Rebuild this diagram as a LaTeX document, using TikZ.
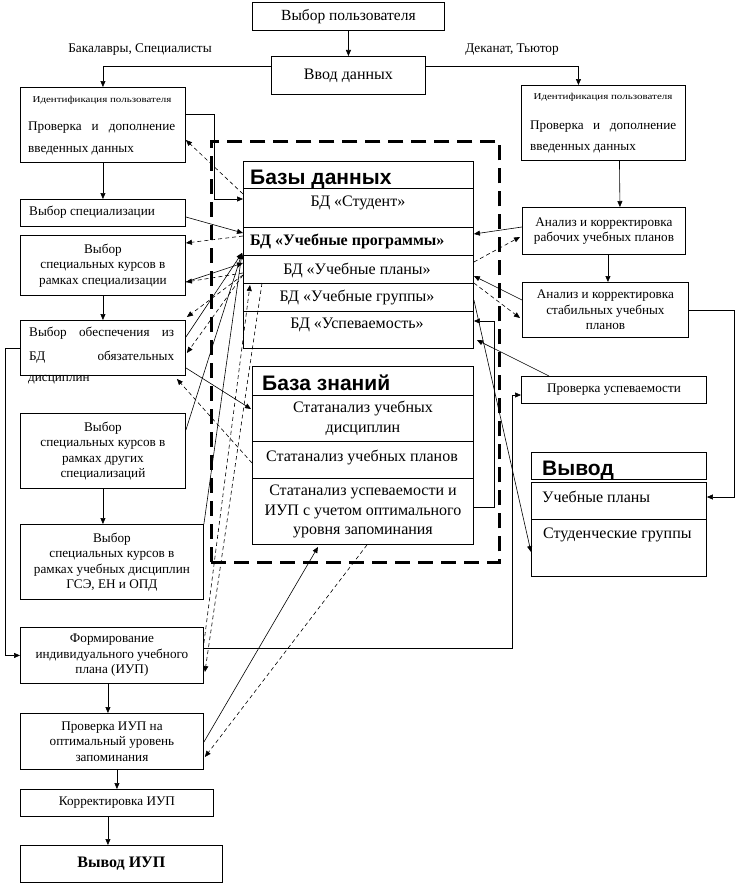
\documentclass[tikz,border=0pt]{standalone}
\usepackage{fontspec}
\setmainfont{Liberation Serif}
\newfontfamily\hsans{Liberation Sans}
\newfontfamily\widefam{Liberation Serif}[FakeStretch=1.22]
\usetikzlibrary{arrows.meta,calc}
\newcommand{\bodyf}{\fontsize{13.2}{15.5}\selectfont}
\newcommand{\bigf}{\fontsize{16}{19.5}\selectfont}
\newcommand{\smallf}{\fontsize{13.3}{15}\selectfont}
\newcommand{\tinyf}{\widefam\fontsize{9}{10}\selectfont}
\newcommand{\headf}{\hsans\bfseries\fontsize{21}{22}\selectfont}
\begin{document}
\begin{tikzpicture}[x=1pt,y=-1pt,
  box/.style={draw, line width=0.9pt, inner sep=1pt, align=center, font=\bodyf, anchor=north west},
  bbox/.style={box, font=\bigf},
  txt/.style={inner sep=0pt, font=\bodyf},
  btxt/.style={inner sep=0pt, font=\bigf},
  lbl/.style={inner sep=0pt, font=\smallf},
  tiny/.style={inner sep=0pt, font=\tinyf},
  head/.style={inner sep=0pt, font=\headf, anchor=base west},
  arr/.style={-{Triangle[length=6pt,width=5pt]}, line width=0.6pt},
  darr/.style={arr, dash pattern=on 4pt off 3pt},
  frame/.style={draw, line width=2.8pt, dash pattern=on 15pt off 8pt, anchor=north west, inner sep=0pt}
]
\useasboundingbox (0,0) rectangle (735,883);

% dashed frame
\node[frame, minimum width=288pt, minimum height=421pt] (frm) at (210,140) {};

% top
\node[bbox, minimum width=192pt, minimum height=28pt, font=\fontsize{15.5}{18}\selectfont] (user) at (252,2) {Выбор пользователя};
\node[bbox, minimum width=154pt, minimum height=38pt] (input) at (271,56) {Ввод данных};
\node[lbl] (lblL) at (140,50) {Бакалавры, Специалисты};
\node[lbl] (lblR) at (512,50) {Деканат, Тьютор};

% left ident
\node[box, minimum width=165pt, minimum height=75pt] (idL) at (20,87) {};
\node[tiny] (idLt) at (102,100) {Идентификация пользователя};
\node[txt, anchor=west] (idL1) at (28,128) {\makebox[147pt][s]{Проверка и дополнение}};
\node[txt, anchor=west] (idL2) at (28,151) {введенных данных};

% right ident
\node[box, minimum width=164pt, minimum height=75pt] (idR) at (521,85) {};
\node[tiny] (idRt) at (603,97) {Идентификация пользователя};
\node[txt, anchor=west] (idR1) at (530,127) {\makebox[146pt][s]{Проверка и дополнение}};
\node[txt, anchor=west] (idR2) at (530,149) {введенных данных};

% left column
\node[box, minimum width=165pt, minimum height=27pt] (spec) at (20,199) {};
\node[txt, anchor=west] (spect) at (29,212.5) {Выбор специализации};
\node[box, minimum width=165pt, minimum height=60pt] (box5) at (20,235) {Выбор\\специальных курсов в\\рамках специализации};
\node[box, minimum width=165pt, minimum height=55pt] (box6) at (20,320) {};
\node[txt, anchor=west] (b6a) at (29,333) {\makebox[145pt][s]{Выбор обеспечения из}};
\node[txt, anchor=west] (b6b) at (29,357) {\makebox[145pt][s]{БД обязательных}};
\node[txt, anchor=west] (b6c) at (28,380) {дисциплин};
\node[box, minimum width=165pt, minimum height=75pt] (box7) at (20,413) {Выбор\\специальных курсов в\\рамках других\\специализаций};
\node[box, minimum width=183pt, minimum height=75pt] (box8) at (20,524) {Выбор\\специальных курсов в\\рамках учебных дисциплин\\ГСЭ, ЕН и ОПД};
\node[box, minimum width=183pt, minimum height=56pt] (box9) at (20,627) {Формирование\\индивидуального учебного\\плана (ИУП)};
\node[box, minimum width=183pt, minimum height=56pt] (box10) at (20,713) {Проверка ИУП на\\оптимальный уровень\\запоминания};
\node[box, minimum width=193pt, minimum height=27pt] (box11) at (20,789) {Корректировка ИУП};
\node[bbox, minimum width=202pt, minimum height=37pt, font=\bigf\bfseries] (box12) at (20,845) {Вывод ИУП};

% right column
\node[box, minimum width=163pt, minimum height=47pt] (rab) at (522,207) {Анализ и корректировка\\рабочих учебных планов};
\node[box, minimum width=166pt, minimum height=55pt] (stab) at (522,282) {Анализ и корректировка\\стабильных учебных\\планов};
\node[box, minimum width=185pt, minimum height=27pt] (prov) at (521,376) {Проверка успеваемости};

% output
\node[box, minimum width=175pt, minimum height=27pt] (vh) at (531,452) {};
\node[head] (vht) at (542,475) {Вывод};
\node[box, minimum width=175pt, minimum height=37pt] (vb1) at (531,482) {};
\node[box, minimum width=175pt, minimum height=57pt] (vb2) at (531,519) {};
\node[btxt, anchor=west] (vb1t) at (542,497) {Учебные планы};
\node[btxt, anchor=west] (vb2t) at (543,535) {Студенческие группы};

% databases
\node[box, minimum width=230pt, minimum height=27pt] (dbh) at (243,161) {};
\node[head] (dbht) at (250,184) {Базы данных};
\node[box, minimum width=230pt, minimum height=39pt] (r1) at (243,188) {};
\node[box, minimum width=230pt, minimum height=28pt] (r2) at (243,227) {};
\node[box, minimum width=230pt, minimum height=28pt] (r3) at (243,255) {};
\node[box, minimum width=230pt, minimum height=28pt] (r4) at (243,283) {};
\node[box, minimum width=230pt, minimum height=37pt] (r5) at (243,311) {};
\node[btxt] (r1t) at (358,203) {БД «Студент»};
\node[btxt, anchor=west, font=\bigf\bfseries] (r2t) at (250,241) {БД «Учебные программы»};
\node[btxt] (r3t) at (357,270) {БД «Учебные планы»};
\node[btxt] (r4t) at (357,297) {БД «Учебные группы»};
\node[btxt] (r5t) at (357,325) {БД «Успеваемость»};

% knowledge base
\node[box, minimum width=221pt, minimum height=29pt] (kbh) at (252,366) {};
\node[head] (kbht) at (262,390) {База знаний};
\node[bbox, minimum width=221pt, minimum height=46pt] (k1) at (252,395) {Статанализ учебных\\дисциплин};
\node[box, minimum width=221pt, minimum height=37pt] (k2) at (252,441) {};
\node[btxt] (k2t) at (362,457) {Статанализ учебных планов};
\node[bbox, minimum width=221pt, minimum height=66pt] (k3) at (252,478) {Статанализ успеваемости и\\ИУП с учетом оптимального\\уровня запоминания};

% top connectors
\draw[arr] (user) -- (input);
\draw[arr] ($(input.north west)+(0,10)$) -| (idL.north);
\draw[arr] ($(input.north east)+(0,10)$) -| ($(idR.north)+(-25,0)$);
\draw[arr] (idL.south) -- (spec.north);
\draw[arr] (box5.south) -- (box6.north);
\draw[arr] (box7.south) -- (box7.south |- box8.north);
\draw[arr] ($(box9.south)+(-4,0)$) -- ($(box10.north)+(-4,0)$);
\draw[arr] ($(box10.south)+(5,0)$) -- ($(box10.south |- box11.north)+(5,0)$);
\draw[arr] ($(box11.south)+(-9,0)$) -- ($(box11.south |- box12.north)+(-9,0)$);
\draw[arr] ($(box6.north west)+(0,28)$) -- ++(-15,0) |- (box9.west);
\draw[arr] ($(idR.south)+(16,0)$) -- ($(rab.north)+(16,0)$);
\draw[arr] ($(rab.south)+(4,0)$) -- ($(rab.south |- stab.north)+(4,0)$);
\draw[arr] (stab.east) -- ++(45,0) |- ($(vb1.north east)+(0,15)$);

% left links to databases
\coordinate (P) at ($(r3.north west)+(-1,-2)$);
\draw[arr] ($(idL.north east)+(0,27)$) -- ++(28,0) |- ($(r1.north west)+(0,11)$);
\draw[darr] ($(r1.north west)+(0,6)$) -- ($(idL.north east)+(0,53)$);
\draw[arr] ($(spec.north east)+(0,18)$) -- ($(r2.north west)+(0,6)$);
\draw[darr] ($(r2.north west)+(0,9)$) -- ($(box5.north east)+(0,8)$);
\draw[arr] ($(box5.north east)+(0,47)$) -- ($(r3.north west)+(0,8)$);
\draw[darr] ($(r3.north west)+(0,18)$) -- ($(box5.north east)+(0,47)$);
\draw[darr] ($(r3.north west)+(0,20)$) -- ($(box6.north east)+(1,-3)$);
\draw[darr] ($(r3.north west)+(0,20)$) -- ($(box6.north east)+(1,33)$);
\draw[arr] ($(box6.north east)+(0,17)$) -- (P);
\draw[arr] ($(box6.south east)+(0,-8)$) -- ($(k1.north west)+(-1,14)$);
\draw[darr] ($(k2.north west)+(0,22)$) -- ($(box6.south east)+(-9,3)$);
\draw[arr] ($(box7.north east)+(0,17)$) -- (P);
\draw[arr] (box8.north east) -- (P);
\draw[darr] ($(box9.north east)+(0,16)$) -- ($(r4.north west)+(7,2)$);
\draw[darr] ($(r4.north west)+(19,0)$) -- ($(box9.north east)+(1,45)$);
\draw[arr] ($(box10.north east)+(0,29)$) -- ($(k3.south west)+(66,2)$);
\draw[darr] ($(k3.south west)+(115,0)$) -- ($(box10.north east)+(1,44)$);
\draw[arr] ($(box9.north east)+(0,21)$) -| ($(prov.north west)+(-9,19)$) -- ($(prov.north west)+(0,19)$);

% right links
\draw[arr] ($(rab.north west)+(0,20)$) -- ($(r2.north east)+(0,7)$);
\draw[darr] ($(r3.north east)+(0,7)$) -- ($(rab.north west)+(-2,30)$);
\draw[arr] ($(stab.north west)+(0,18)$) -- ($(r3.north east)+(0,21)$);
\draw[darr] (r4.north east) -- ($(stab.north west)+(-2,36)$);
\draw[arr] ($(k3.north east)+(0,29)$) -- ++(20,0) |- ($(r5.north east)+(0,10)$);
\draw[arr] ($(prov.north west)+(28,0)$) -- ($(r5.north east)+(3,29)$);
\draw[arr] ($(r4.north east)+(0,17)$) -- ($(vb2.north west)+(0,33)$);
\end{tikzpicture}
\end{document}
